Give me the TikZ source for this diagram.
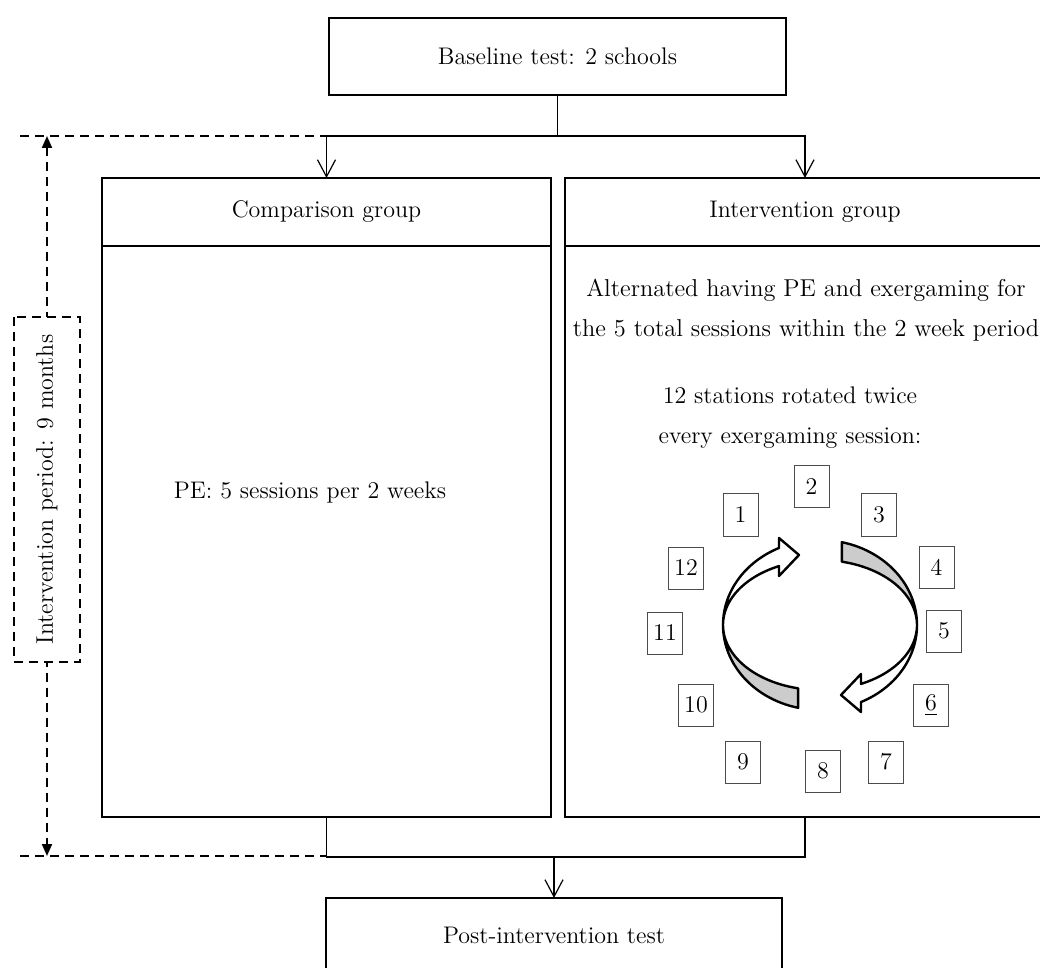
\documentclass[tikz,border=0pt]{standalone}
\usetikzlibrary{arrows.meta}
\begin{document}
\begin{tikzpicture}[x=0.5pt, y=-0.5pt,
    font=\fontsize{12}{14.4}\selectfont,
    box/.style={draw, line width=1pt, inner sep=0pt, outer sep=0pt},
    flow/.style={line width=0.6pt, -{Straight Barb[length=8.5pt, width=9pt]}},
    link/.style={line width=0.6pt},
    dashline/.style={line width=1pt, dash pattern=on 4.5pt off 3pt},
    station/.style={draw=black!70, line width=0.5pt, inner sep=0pt,
      minimum width=17.5pt, minimum height=21pt},
    ribbon/.style={line width=1.2pt, line join=round}]
      \useasboundingbox (0,0) rectangle (1040,968);

      % top and bottom tests
      \node[box, minimum width=228.5pt, minimum height=38.5pt] (base) at (557.5,56.5) {Baseline test: 2 schools};
      \node[box, minimum width=228pt, minimum height=37pt] (post) at (554,935) {Post-intervention test};

      % the two groups
      \node[box, minimum width=224.5pt, minimum height=34pt] (comph) at (326.5,212) {Comparison group};
      \node[box, minimum width=224.5pt, minimum height=285.5pt, anchor=north] (compb) at (comph.south) {};
      \node[box, minimum width=240pt, minimum height=34pt] (inth) at (805,212) {Intervention group};
      \node[box, minimum width=240pt, minimum height=285.5pt, anchor=north] (intb) at (inth.south) {};

      \node (pe) at (310,493) {PE: 5 sessions per 2 weeks};
      \node[align=center, font=\fontsize{12.2}{20}\selectfont] (alt) at (806,310)
        {Alternated having PE and exergaming for\\the 5 total sessions within the 2 week period};
      \node[align=center, font=\fontsize{12}{20}\selectfont] (rot) at (790,418)
        {12 stations rotated twice\\every exergaming session:};

      \draw[flow] (base.south) -- ++(0,41) -| (comph.north);
      \draw[flow] (base.south) -- ++(0,41) -| (inth.north);
      \draw[link] (compb.south) -- ++(0,40) -| (intb.south);
      \coordinate (merge) at (post.north |- 0,857);
      \draw[flow] (merge) -- (post.north);

      % intervention period
      \coordinate (dtop) at (20,136);
      \coordinate (dbot) at (20,856);
      \coordinate (ptop) at (47,136);
      \coordinate (pbot) at (47,856);
      \draw[dashline] (dtop) -- (comph.north |- dtop);
      \draw[dashline] (dbot) -- (compb.south |- dbot);
      \draw[dashline, {Triangle[length=6pt, width=5pt]}-{Triangle[length=6pt, width=5pt]}] (ptop) -- (pbot);
      \node[draw, dashline, fill=white, rotate=90, minimum width=172.5pt, minimum height=33pt] (period) at (47,489.5)
        {Intervention period: 9 months};

      % rotating arrows
      \filldraw[ribbon, fill=white] plot[domain=180:245, samples=30] ({820+97*cos(\x)}, {625+85*sin(\x)})
        -- (779,538) -- (799,555) -- (779,576)
        -- plot[domain=245:180, samples=30] ({820+97*cos(\x)}, {625+65*sin(\x)}) -- cycle;
      \filldraw[ribbon, fill=gray!40] plot[domain=103:180, samples=30] ({820+97*cos(\x)}, {625+85*sin(\x)})
        -- plot[domain=180:103, samples=30] ({820+97*cos(\x)}, {625+65*sin(\x)}) -- cycle;
      \filldraw[ribbon, fill=white] plot[domain=0:65, samples=30] ({820+97*cos(\x)}, {625+85*sin(\x)})
        -- (861,712) -- (841,695) -- (861,674)
        -- plot[domain=65:0, samples=30] ({820+97*cos(\x)}, {625+65*sin(\x)}) -- cycle;
      \filldraw[ribbon, fill=gray!40] plot[domain=283:360, samples=30] ({820+97*cos(\x)}, {625+85*sin(\x)})
        -- plot[domain=360:283, samples=30] ({820+97*cos(\x)}, {625+65*sin(\x)}) -- cycle;

      % stations
      \foreach \n/\t/\px/\py in {1/1/740.5/515, 2/2/811.5/486.5, 3/3/879/515, 4/4/936.5/567,
          5/5/944/631, 6/{\underline{6}}/931/705, 7/7/886/762, 8/8/823/771,
          9/9/743/762, 10/10/696/705, 11/11/665/633, 12/12/686/568}
        \node[station] (s\n) at (\px,\py) {\t};
    \end{tikzpicture}
\end{document}
